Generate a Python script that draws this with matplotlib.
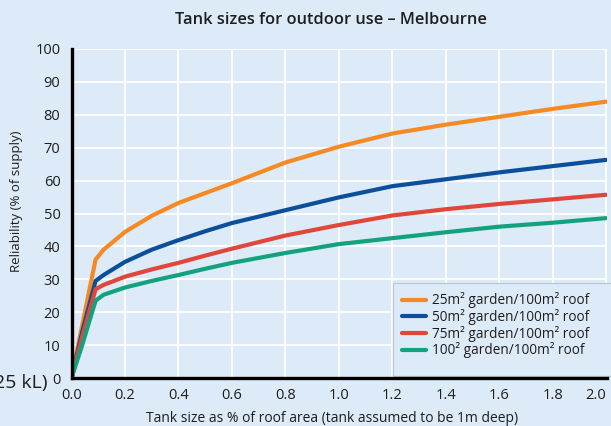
import matplotlib
matplotlib.use("Agg")
import matplotlib.pyplot as plt
from matplotlib.patches import Rectangle

tank_size = [0, 0.04, 0.09, 0.12, 0.2, 0.3, 0.4, 0.5, 0.6, 0.8, 1.0, 1.2, 1.4, 1.6, 1.8, 2.0]
garden25 = [0, 16, 36, 39, 44.4, 49.3, 53.2, 56.2, 59.2, 65.5, 70.3, 74.3, 77.0, 79.4, 81.8, 84.0]
garden50 = [0, 14, 29.5, 31.3, 35.3, 39.0, 41.9, 44.6, 47.1, 51.0, 54.9, 58.3, 60.4, 62.5, 64.4, 66.3]
garden75 = [0, 12.5, 27, 28.3, 30.8, 33, 35, 37.2, 39.3, 43.3, 46.5, 49.4, 51.3, 52.9, 54.3, 55.7]
garden100 = [0, 10, 23.5, 25.3, 27.5, 29.5, 31.3, 33.2, 35, 38, 40.7, 42.5, 44.3, 46, 47.2, 48.6]
labels = ["25m² garden/100m² roof", "50m² garden/100m² roof",
          "75m² garden/100m² roof", "100² garden/100m² roof"]
colors = ["#f58a25", "#0b4f9a", "#e0473a", "#12a37e"]
xticks = [0.0, 0.2, 0.4, 0.6, 0.8, 1.0, 1.2, 1.4, 1.6, 1.8, 2.0]
yticks = [0, 10, 20, 30, 40, 50, 60, 70, 80, 90, 100]

plt.rcParams['font.family'] = ['Open Sans', 'DejaVu Sans']
bg = "#ddeaf7"
txt = "#1e1e1e"
W, H = 611, 426
fig = plt.figure(figsize=(6.11, 4.26), dpi=100, facecolor=bg)
ax = fig.add_axes([71.5/W, 1-378/H, (607-71.5)/W, (378-49)/H])
ax.set_facecolor(bg)

for ys, c, lab in zip([garden25, garden50, garden75, garden100], colors, labels):
    ax.plot(tank_size, ys, color=c, lw=3, label=lab, solid_capstyle='round', zorder=3)

ax.set_xlim(0, 2.003)
ax.set_ylim(0, 100)
ax.set_xticks(xticks)
ax.set_xticklabels([f"{v:.1f}" for v in xticks])
ax.set_yticks(yticks)
ax.grid(True, color="white", lw=1.3)
ax.set_axisbelow(True)
ax.tick_params(length=0, labelsize=10.5, colors=txt)
ax.tick_params(axis='x', pad=7)
ax.tick_params(axis='y', pad=8)
ax.get_xticklabels()[-1].set_horizontalalignment('right')
for s in ["top", "right"]:
    ax.spines[s].set_visible(False)
for s in ["left", "bottom"]:
    ax.spines[s].set_linewidth(2.4)
    ax.spines[s].set_color("black")
    ax.spines[s].set_zorder(5)

fig.text(331/W, 1-20/H, "Tank sizes for outdoor use – Melbourne", fontsize=11.8,
         fontweight='semibold', color=txt, ha='center', va='center')
ax.set_xlabel("Tank size as % of roof area (tank assumed to be 1m deep)", fontsize=10, color=txt)
ax.xaxis.label.set_va('center')
ax.xaxis.set_label_coords((332-71.5)/535.5, (378-418)/329)
ax.set_ylabel("Reliability (% of supply)", fontsize=9.5, color=txt)
ax.yaxis.label.set_va('center')
ax.yaxis.set_label_coords((17-71.5)/535.5, (378-201)/329)

# legend box
box = Rectangle((393/W, 1-376/H), (640-393)/W, (376-283)/H, transform=fig.transFigure,
                facecolor=bg, edgecolor="#b9c6d3", lw=0.9, zorder=4)
ax.add_patch(box)
box.set_clip_on(False)
leg = ax.legend(loc="lower left", bbox_to_anchor=(392/W, 1-368/H), bbox_transform=fig.transFigure,
                fontsize=9.8, frameon=False, handlelength=1.8, handletextpad=0.45,
                borderpad=0.2, labelspacing=0.05)
leg.set_zorder(6)
for t in leg.get_texts():
    t.set_color(txt)

fig.text(48/W, 1-383/H, "25 kL)", fontsize=14, ha="right", va="center", color=txt)

fig.savefig("out.png", dpi=100, facecolor=bg)
